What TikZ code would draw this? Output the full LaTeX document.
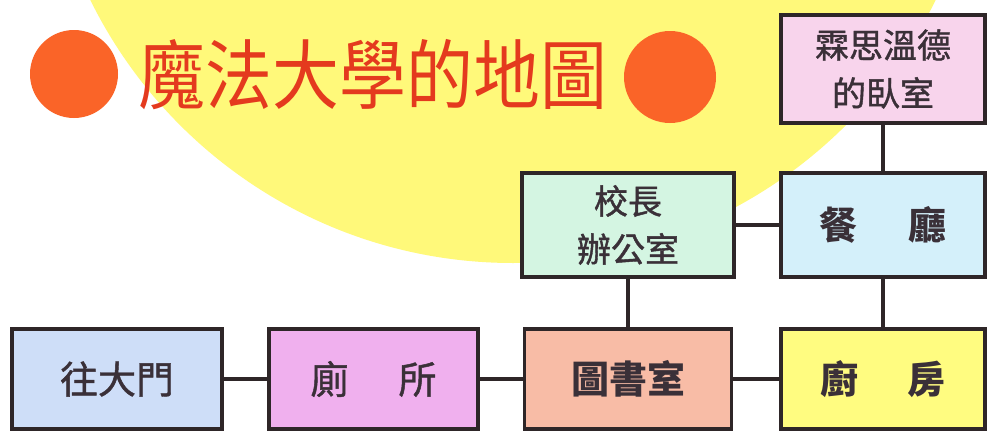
\documentclass[tikz,border=0pt]{standalone}
\usepackage{fontspec}
\newfontfamily\cjk{Noto Sans CJK TC}
\newfontfamily\cjkm[FakeBold=1.2]{Noto Sans CJK TC}
\definecolor{bgyellow}{RGB}{255,249,122}
\definecolor{dotorange}{RGB}{250,100,40}
\definecolor{titlered}{RGB}{228,58,30}
\definecolor{edge}{RGB}{46,38,40}
\definecolor{ink}{RGB}{58,48,56}
\definecolor{cgate}{RGB}{206,222,248}
\definecolor{cwc}{RGB}{240,176,238}
\definecolor{clib}{RGB}{248,188,166}
\definecolor{ckitchen}{RGB}{255,252,128}
\definecolor{chead}{RGB}{212,245,226}
\definecolor{cdining}{RGB}{212,240,250}
\definecolor{cbed}{RGB}{248,212,236}
\tikzset{
  room/.style={draw=edge, line width=3.6pt, rectangle, inner sep=0pt,
    text=ink, font=\cjkm\fontsize{38}{48}\selectfont, align=center},
  roomb/.style={room, font=\cjk\bfseries\fontsize{38}{48}\selectfont},
  room2/.style={room, font=\cjkm\fontsize{34}{48}\selectfont},
  link/.style={draw=edge, line width=3.6pt},
}
\begin{document}
\begin{tikzpicture}[x=1pt,y=-1pt]
\useasboundingbox (0,0) rectangle (988,431);
\clip (0,0) rectangle (988,431);
\fill[white] (0,0) rectangle (988,431);
\fill[bgyellow] (513,-208) circle[radius=471pt];
% title
\fill[dotorange] (74,74) circle[radius=44pt];
\fill[dotorange] (670,77) circle[radius=46pt];
\node[text=titlered, font=\cjk\fontsize{76}{80}\selectfont, inner sep=0pt] (title) at (373,75) {\scalebox{0.88}[1]{魔法大學的地圖}};
% rooms
\node[room, fill=cgate, minimum width=210pt, minimum height=100pt] (gate) at (117,379) {往大門};
\node[room, fill=cwc, minimum width=209pt, minimum height=100pt] (wc) at (373.5,379) {廁\hspace{50pt}所};
\node[roomb, fill=clib, minimum width=207pt, minimum height=100pt] (lib) at (628,379) {圖書室};
\node[roomb, fill=ckitchen, minimum width=204pt, minimum height=100pt] (kitchen) at (883,379) {廚\hspace{50pt}房};
\node[room2, fill=chead, minimum width=212pt, minimum height=104pt] (head) at (628,225) {校長\\辦公室};
\node[roomb, fill=cdining, minimum width=204pt, minimum height=104pt] (dining) at (883,225) {餐\hspace{52pt}廳};
\node[room2, fill=cbed, minimum width=204pt, minimum height=108pt] (bed) at (883,69) {霖思溫德\\的臥室};
% links
\draw[link] (gate.east) -- (wc.west);
\draw[link] (wc.east) -- (lib.west);
\draw[link] (lib.east) -- (kitchen.west);
\draw[link] (head.south) -- (lib.north);
\draw[link] (head.east) -- (dining.west);
\draw[link] (bed.south) -- (dining.north);
\draw[link] (dining.south) -- (kitchen.north);
\end{tikzpicture}
\end{document}
